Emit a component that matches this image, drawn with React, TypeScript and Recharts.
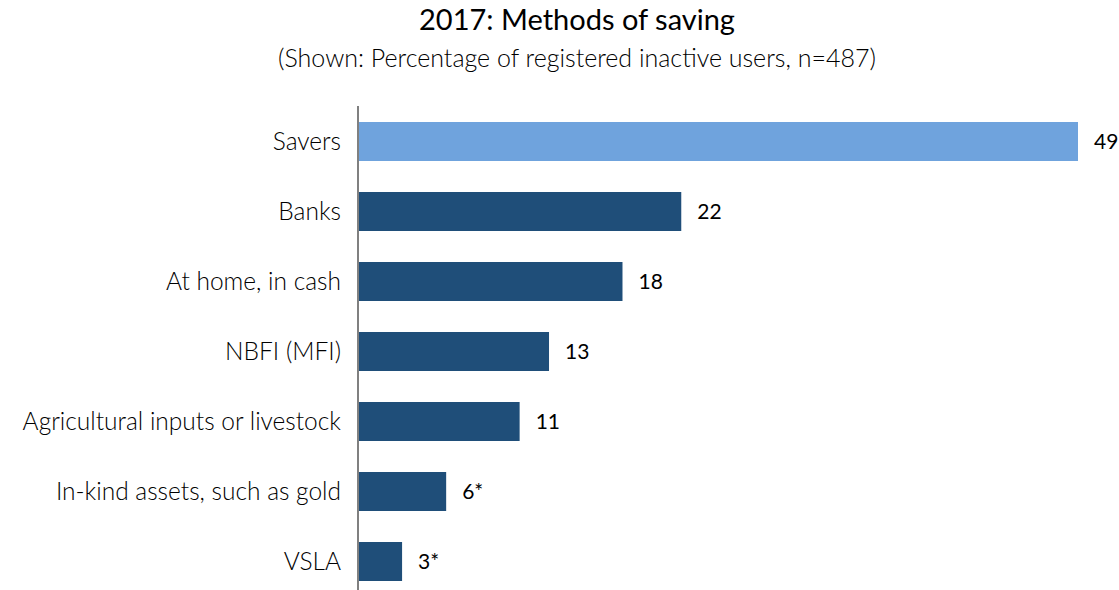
import React from "react";
import { Bar, BarChart, Cell, LabelList, XAxis, YAxis } from "recharts";

const categories = [
  "Savers",
  "Banks",
  "At home, in cash",
  "NBFI (MFI)",
  "Agricultural inputs or livestock",
  "In-kind assets, such as gold",
  "VSLA",
];
const values = [49, 22, 18, 13, 11, 6, 3];
const valueLabels = ["49", "22", "18", "13", "11", "6*", "3*"];

const data = categories.map((name, i) => ({ name, value: values[i], label: valueLabels[i] }));

const FONT = "Lato, 'Open Sans', sans-serif";
const DARK = "#1F4E79";
const LIGHT = "#6FA3DD";

export default function App() {
  return (
    <div
      style={{
        position: "absolute",
        left: 0,
        top: 0,
        width: 1119,
        height: 590,
        overflow: "hidden",
        background: "#fff",
        fontFamily: FONT,
      }}
    >
      <div
        style={{
          position: "absolute",
          left: 0,
          width: 1154,
          top: 1,
          textAlign: "center",
          fontSize: 29,
          color: "#000",
        }}
      >
        2017: Methods of saving
      </div>
      <div
        style={{
          position: "absolute",
          left: 0,
          width: 1154,
          top: 42,
          textAlign: "center",
          fontSize: 25,
          fontWeight: 300,
          color: "#000",
        }}
      >
        (Shown: Percentage of registered inactive users, n=487)
      </div>
      <div style={{ position: "absolute", left: 0, top: 0 }}>
        <BarChart
          width={1119}
          height={600}
          data={data}
          layout="vertical"
          margin={{ top: 106, right: 41, bottom: 4, left: 0 }}
        >
          <XAxis type="number" domain={[0, 49]} hide />
          <YAxis
            type="category"
            dataKey="name"
            width={358}
            tickLine={false}
            tickSize={0}
            tickMargin={17}
            axisLine={{ stroke: "#808080", strokeWidth: 2 }}
            tick={{ fill: "#000", fontSize: 24.5, fontWeight: 300, fontFamily: FONT }}
            interval={0}
          />
          <Bar dataKey="value" barSize={39} isAnimationActive={false}>
            {data.map((d, i) => (
              <Cell key={d.name} fill={i === 0 ? LIGHT : DARK} />
            ))}
            <LabelList
              dataKey="label"
              position="right"
              offset={16}
              fill="#000"
              fontSize={21}
              fontFamily={FONT}
            />
          </Bar>
        </BarChart>
      </div>
    </div>
  );
}
